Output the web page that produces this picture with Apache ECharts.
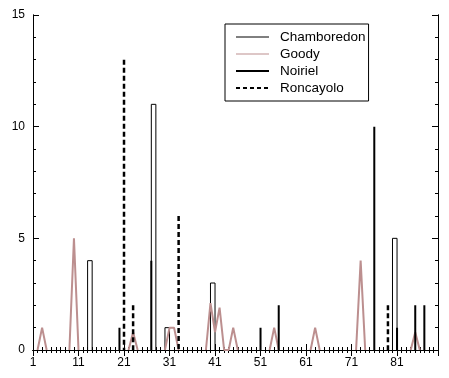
<!DOCTYPE html>
<html>
<head>
<meta charset="utf-8">
<script src="https://cdn.jsdelivr.net/npm/echarts@6/dist/echarts.min.js"></script>
<style>
html,body{margin:0;padding:0;background:#fff}
#main{width:449px;height:378px}
</style>
</head>
<body>
<div id="main"></div>
<script>
var xTicks = [1, 11, 21, 31, 41, 51, 61, 71, 81];
var yTicks = [0, 5, 10, 15];

// Chamboredon: steps, each bar spans x..x+1
var chamX = [13, 27, 30, 40, 80];
var chamY = [4, 11, 1, 3, 5];

// Goody: line over integers, zero between the peaks
var goodyX = [3, 10, 23, 31, 32, 40, 41, 42, 45, 54, 63, 73, 85];
var goodyY = [1, 5, 0.8, 1, 1, 2.1, 0.8, 1.9, 1, 1, 1, 4, 0.8];

// Noiriel / Roncayolo: impulses
var noirielX = [20, 27, 51, 55, 76, 81, 85, 87];
var noirielY = [1, 4, 1, 2, 10, 1, 2, 2];
var roncX = [21, 23, 33, 79];
var roncY = [13, 2, 6, 2];

function steps(xs, ys) {
    var d = [];
    xs.forEach(function (x, i) {
        d.push([x, 0], [x, ys[i]], [x + 1, ys[i]], [x + 1, 0], [x + 1, null]);
    });
    return d;
}
function impulses(xs, ys) {
    var d = [];
    xs.forEach(function (x, i) {
        d.push([x, ys[i]], [x, 0], [x, null]);
    });
    return d;
}
function goodyLine(xs, ys) {
    var v = {};
    xs.forEach(function (x, i) { v[x] = ys[i]; });
    var d = [];
    for (var i = 1; i <= 90; i++) {
        if (v[i] || v[i - 1] || v[i + 1]) d.push([i, v[i] || 0]);
        else d.push([i, null]);
    }
    return d;
}

var font = 'Liberation Sans';
var black = '#000';
var rosy = '#bc8f8f';

function xAx(pos, interval, len, labels) {
    return {
        type: 'value', position: pos, min: 1, max: 90, interval: interval,
        axisLine: {show: true, lineStyle: {color: black, width: 1}},
        axisTick: {show: true, inside: true, length: len, lineStyle: {color: black}},
        axisLabel: {
            show: labels, showMaxLabel: false, margin: 7,
            color: black, fontFamily: font, fontSize: 12,
            formatter: function (val) { return xTicks.indexOf(val) >= 0 ? String(val) : ''; }
        },
        splitLine: {show: false}
    };
}
function yAx(pos, interval, len, labels) {
    return {
        type: 'value', position: pos, min: 0, max: 15, interval: interval,
        axisLine: {show: true, lineStyle: {color: black, width: 1}},
        axisTick: {show: true, inside: true, length: len, lineStyle: {color: black}},
        axisLabel: {
            show: labels, margin: 8,
            color: black, fontFamily: font, fontSize: 12,
            formatter: function (val) { return yTicks.indexOf(val) >= 0 ? String(val) : ''; }
        },
        splitLine: {show: false}
    };
}

var chart = echarts.init(document.getElementById('main'));
chart.setOption({
    animation: false,
    backgroundColor: '#fff',
    grid: {left: 33, right: 11, top: 15, bottom: 28},
    legend: {
        orient: 'vertical',
        left: 225, top: 24,
        padding: [6, 3, 6, 10],
        itemWidth: 33, itemHeight: 15, itemGap: 3,
        itemStyle: {opacity: 0},
        borderColor: black, borderWidth: 1,
        textStyle: {color: black, fontFamily: font, fontSize: 13.5, padding: [0, 0, 0, 6]},
        data: [
            {name: 'Chamboredon', lineStyle: {width: 1}},
            {name: 'Goody', lineStyle: {width: 1}},
            {name: 'Noiriel', lineStyle: {width: 2}},
            {name: 'Roncayolo', lineStyle: {width: 2, type: [4, 3]}}
        ]
    },
    xAxis: [
        xAx('bottom', 10, 6, true),
        xAx('bottom', 1, 3, false),
        xAx('top', 10, 6, false),
        xAx('top', 1, 3, false)
    ],
    yAxis: [
        yAx('left', 5, 6, true),
        yAx('left', 1, 3, false),
        yAx('right', 5, 6, false),
        yAx('right', 1, 3, false)
    ],
    series: [
        {
            name: 'Chamboredon', type: 'line', symbol: 'none', connectNulls: false,
            color: black, lineStyle: {color: black, width: 1},
            data: steps(chamX, chamY)
        },
        {
            name: 'Goody', type: 'line', symbol: 'none', connectNulls: false,
            color: rosy, lineStyle: {color: rosy, width: 2},
            data: goodyLine(goodyX, goodyY)
        },
        {
            name: 'Noiriel', type: 'line', symbol: 'none', connectNulls: false,
            color: black, lineStyle: {color: black, width: 2},
            data: impulses(noirielX, noirielY)
        },
        {
            name: 'Roncayolo', type: 'line', symbol: 'none', connectNulls: false,
            color: black, lineStyle: {color: black, width: 2.5, type: [5, 3]},
            data: impulses(roncX, roncY)
        }
    ]
});
</script>
</body>
</html>
